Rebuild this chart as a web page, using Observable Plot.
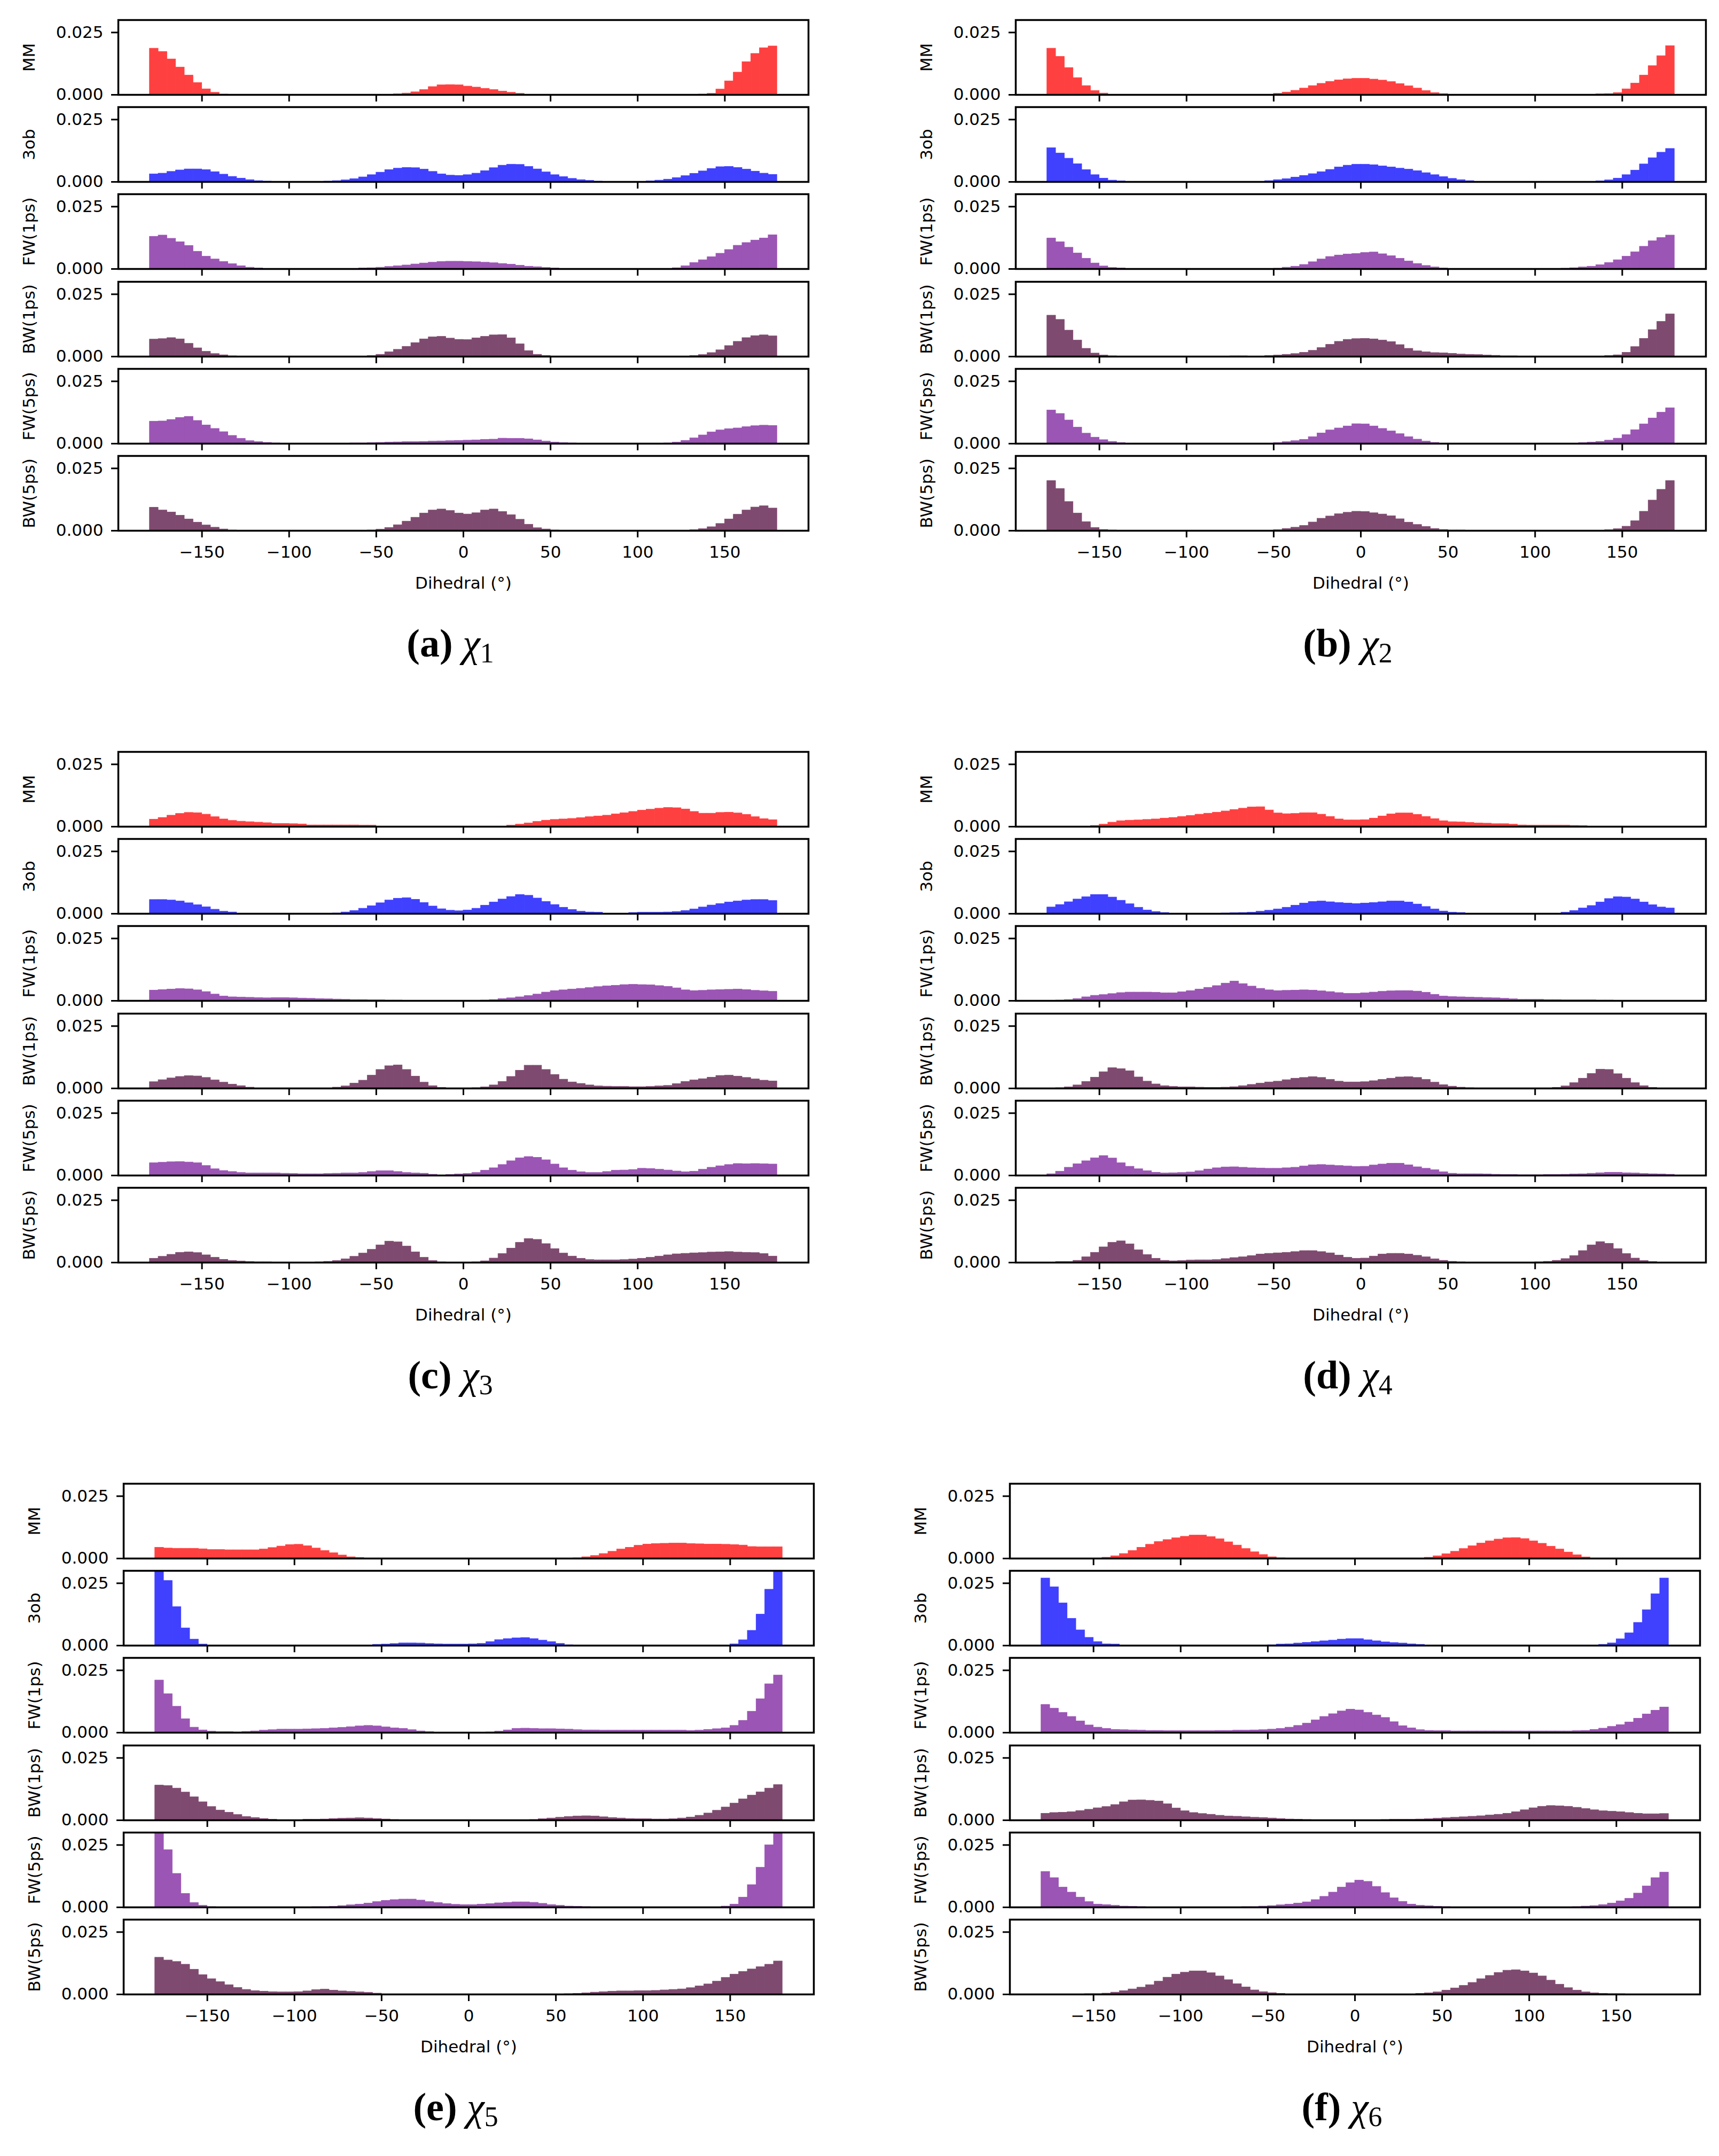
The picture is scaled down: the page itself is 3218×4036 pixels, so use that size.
<!DOCTYPE html>
<html><head><meta charset="utf-8">
<script src="https://cdn.jsdelivr.net/npm/d3@7"></script>
<script src="https://cdn.jsdelivr.net/npm/@observablehq/plot@0.6"></script>
<style>
html,body{margin:0;padding:0;background:#fff;}
#page{position:relative;width:3218px;height:4036px;background:#fff;overflow:hidden;}
.sub{position:absolute;}
.cap{position:absolute;font-family:"Liberation Serif","DejaVu Serif",serif;font-size:74px;color:#000;transform:translate(-50%,-50%);white-space:nowrap;line-height:1;}
.cap sub{font-size:0.7em;vertical-align:-0.22em;font-style:normal;}
</style></head><body><div id="page"></div><script>
// Histogram heights in units of 1e-3 (probability density per degree), 5-degree bins from -180 to 180.
// Six rows per panel: MM, 3ob, FW(1ps), BW(1ps), FW(5ps), BW(5ps).
const a_MM = [18.6,17.3,14.3,11.0,7.8,4.8,2.3,0.9,0.2,0,0,0, 0,0,0,0,0,0,0,0,0,0,0,0, 0,0,0,0,0.3,0.6,1.1,2.0,3.2,3.9,4.0,3.9, 3.4,3.0,2.5,2.0,1.4,0.9,0.5,0.1,0,0,0,0, 0,0,0,0,0,0,0,0,0,0,0,0, 0,0,0,0.2,0.5,2.2,5.5,9.0,13.2,16.5,18.8,19.5];
const a_3ob = [3.1,3.4,4.1,4.7,5.1,5.1,4.8,4.0,3.0,2.1,1.4,0.8, 0.4,0.2,0,0,0,0,0,0,0.2,0.4,0.7,1.2, 1.9,2.8,3.8,4.8,5.4,5.7,5.6,5.0,4.1,3.1,2.6,2.5, 2.8,3.4,4.4,5.6,6.6,7.0,6.9,6.1,5.1,3.9,2.8,2.0, 1.3,0.8,0.5,0.2,0.1,0,0,0.1,0.1,0.3,0.6,1.0, 1.6,2.4,3.3,4.3,5.3,6.0,6.1,5.7,5.0,4.2,3.4,2.9];
const a_FW1 = [13.0,13.5,12.2,10.8,9.3,7.0,5.0,3.9,2.9,2.0,1.2,0.6, 0.3,0.1,0,0,0,0,0,0,0,0,0,0.1, 0.3,0.4,0.6,0.9,1.2,1.5,1.9,2.3,2.6,2.9,3.0,3.0, 2.9,2.8,2.6,2.4,2.1,1.8,1.4,1.0,0.8,0.5,0.3,0.1, 0,0,0,0,0,0,0,0,0,0,0,0.1, 0.4,1.2,2.5,3.6,4.8,6.2,7.7,9.4,10.5,11.5,12.3,13.6];
const a_BW1 = [6.9,7.1,7.5,7.0,5.2,3.4,2.0,1.1,0.6,0.2,0,0, 0,0,0,0,0,0,0,0,0,0,0,0, 0.1,0.3,0.8,1.8,2.8,4.0,5.5,7.0,7.8,8.0,7.3,6.8, 6.7,7.4,8.0,8.6,8.7,7.4,5.0,2.3,0.8,0.3,0.1,0, 0,0,0,0,0,0,0,0,0,0,0,0, 0,0.1,0.3,0.7,1.5,2.6,4.3,6.0,7.5,8.3,8.6,8.2];
const a_FW5 = [8.9,9.0,9.6,10.4,10.8,9.2,7.4,6.0,4.7,3.2,2.0,1.1, 0.7,0.4,0.2,0.1,0.05,0,0,0,0,0.1,0.1,0.2, 0.2,0.3,0.4,0.5,0.6,0.7,0.7,0.8,0.9,1.0,1.1,1.2, 1.3,1.4,1.6,1.7,2.1,2.0,2.0,1.8,1.4,0.9,0.5,0.3, 0.2,0.1,0.05,0,0,0,0,0,0,0.05,0.1,0.2, 0.5,1.2,2.2,3.4,4.6,5.4,5.9,6.2,6.7,7.1,7.3,7.2];
const a_BW5 = [9.3,8.2,7.4,6.1,4.6,3.3,2.2,1.3,0.6,0.2,0,0, 0,0,0,0,0,0,0,0,0,0,0,0.1, 0.1,0.2,0.5,1.2,2.3,3.7,5.3,7.0,8.2,8.6,8.0,7.0, 6.6,7.1,8.2,8.6,7.6,6.3,4.5,2.5,1.1,0.6,0.2,0.1, 0,0,0,0,0,0,0,0,0,0,0,0, 0,0.1,0.3,0.7,1.5,2.8,4.6,6.5,8.2,9.4,9.9,9.0];

const b_MM = [18.6,15.3,10.8,6.8,3.6,1.6,0.6,0,0,0,0,0, 0,0,0,0,0,0,0,0,0,0,0,0, 0,0,0.5,1.0,1.7,2.6,3.6,4.5,5.3,5.9,6.3,6.5, 6.5,6.2,5.8,5.2,4.4,3.5,2.6,1.6,0.8,0.4,0,0, 0,0,0,0,0,0,0,0,0,0,0,0, 0,0,0,0.3,0.4,0.8,2.3,4.6,7.8,11.6,15.6,19.6];
const b_3ob = [13.6,11.5,9.4,7.2,4.8,2.8,1.4,0.6,0.3,0.1,0,0, 0,0,0,0,0,0,0,0,0,0,0,0, 0,0.4,0.8,1.2,1.8,2.5,3.2,4.0,4.9,5.9,6.6,7.0, 7.0,6.8,6.3,5.9,5.4,5.0,4.4,3.6,2.8,2.0,1.3,0.8, 0.4,0,0,0,0,0,0,0,0,0,0,0, 0,0,0.1,0.3,0.7,1.4,2.8,4.6,7.1,9.6,11.8,13.3];
const b_FW1 = [12.3,10.8,8.6,6.3,4.2,2.3,1.1,0.5,0.3,0.1,0,0, 0,0,0,0,0,0,0,0,0,0,0,0, 0,0,0.2,0.6,1.0,1.7,2.8,3.9,4.9,5.5,5.9,6.1, 6.5,6.7,6.0,5.2,4.2,3.1,2.1,1.3,0.7,0.3,0.1,0, 0,0,0,0.05,0,0,0.05,0,0.05,0,0.1,0.2, 0.4,0.7,1.0,1.6,2.5,3.6,5.0,6.8,9.0,11.2,12.5,13.5];
const b_BW1 = [16.5,14.8,10.5,6.5,3.2,1.3,0.5,0.2,0,0,0,0, 0,0,0,0,0,0,0,0,0,0.2,0.2,0.1, 0.1,0.3,0.5,0.8,1.1,1.6,2.4,3.5,4.8,6.0,6.8,7.1, 7.2,7.0,6.5,5.9,4.7,3.2,2.2,1.8,1.5,1.4,1.2,0.9, 0.8,0.7,0.5,0.4,0.2,0.2,0.1,0.05,0,0,0,0, 0,0,0,0.1,0.3,0.6,1.6,3.9,7.2,10.7,14.0,17.0];
const b_FW5 = [13.4,12.0,9.4,6.5,4.1,2.5,1.5,0.8,0.3,0.1,0,0, 0,0.05,0,0,0,0,0,0,0,0,0,0, 0,0,0.3,0.7,1.1,1.6,2.7,4.2,5.4,6.2,7.0,7.9, 7.8,7.0,6.0,5.0,3.9,2.7,1.7,0.9,0.4,0.1,0,0, 0,0,0,0,0,0,0,0,0,0,0,0.1, 0.1,0.3,0.5,0.8,1.3,2.1,3.5,5.5,7.8,10.2,12.5,14.3];
const b_BW5 = [20.0,16.8,11.6,7.0,3.5,1.2,0.4,0.2,0,0,0,0.1, 0,0,0,0,0,0,0,0,0,0,0,0, 0,0,0.3,0.8,1.3,2.0,3.4,4.9,5.8,6.7,7.3,7.7, 7.6,7.1,6.6,5.9,4.7,3.3,2.4,1.6,0.8,0.4,0.2,0.2, 0.05,0,0.1,0,0,0,0,0,0,0,0,0.1, 0,0.1,0.1,0.1,0.3,0.7,1.7,3.9,7.7,12.2,16.5,20.0];

const c_MM = [2.9,3.6,4.5,5.2,5.6,5.5,4.9,3.9,3.0,2.4,2.1,1.9, 1.7,1.5,1.2,1.2,1.1,1.0,0.6,0.6,0.6,0.6,0.6,0.6, 0.5,0.5,0.1,0,0,0,0,0,0,0,0,0, 0,0,0,0,0,0.5,0.9,1.4,2.0,2.5,2.8,3.0, 3.2,3.5,3.9,4.2,4.5,5.0,5.5,6.0,6.5,6.9,7.3,7.6, 7.5,7.0,6.0,5.3,5.3,5.6,5.7,5.4,4.8,3.9,3.1,2.7];
const c_3ob = [5.6,5.6,5.4,5.0,4.3,3.5,2.7,1.7,0.9,0.6,0.1,0, 0,0,0,0,0,0,0,0,0,0.2,0.6,1.2, 2.1,3.1,4.3,5.4,6.1,6.3,5.7,4.4,3.0,1.9,1.3,1.1, 1.4,2.1,3.3,4.6,5.8,6.8,7.6,7.3,6.2,4.8,3.6,2.5, 1.6,0.9,0.6,0.5,0.1,0,0.1,0.4,0.5,0.5,0.5,0.6, 0.8,1.2,1.8,2.6,3.4,4.0,4.6,5.0,5.4,5.6,5.6,5.2];
const c_FW1 = [4.2,4.4,4.6,4.8,4.7,4.3,3.6,2.6,1.8,1.5,1.4,1.3, 1.2,1.1,1.2,1.2,1.1,1.0,0.9,0.8,0.7,0.6,0.5,0.4, 0.4,0.3,0.3,0.2,0.2,0.1,0.1,0.05,0,0,0.05,0, 0,0.05,0.2,0.4,0.8,1.1,1.5,2.0,2.6,3.4,4.0,4.3, 4.6,4.9,5.2,5.6,5.9,6.1,6.4,6.5,6.4,6.3,6.0,5.7, 5.1,4.3,4.0,4.1,4.3,4.4,4.5,4.6,4.4,4.1,3.9,3.7];
const c_BW1 = [2.6,3.4,4.1,4.7,5.0,4.9,4.3,3.3,2.4,1.6,1.0,0.4, 0.1,0,0,0,0,0,0,0,0.1,0.4,0.9,2.0, 3.2,5.2,7.5,9.0,9.3,7.5,4.8,2.4,1.0,0.3,0.1,0, 0,0.2,0.5,1.3,2.7,4.7,7.2,9.2,9.2,7.5,5.5,3.6, 2.5,1.9,1.3,0.9,0.8,0.7,0.7,0.6,0.6,0.7,0.9,1.1, 1.8,2.7,3.3,3.8,4.4,5.1,5.2,4.8,4.3,3.7,3.2,2.9];
const c_FW5 = [5.0,5.2,5.4,5.5,5.3,5.0,3.9,2.6,1.9,1.5,1.1,0.9, 0.9,0.9,0.9,0.8,0.7,0.6,0.6,0.6,0.7,0.8,0.9,0.9, 1.1,1.5,1.8,1.8,1.5,1.1,0.9,0.8,0.4,0.1,0.3,0.5, 0.7,1.1,2.0,3.0,4.3,5.8,7.0,7.5,7.2,6.2,4.5,3.0, 2.0,1.4,1.1,1.1,1.5,2.0,2.1,2.3,2.8,2.7,2.4,2.1, 1.7,1.4,1.6,2.4,3.2,3.8,4.3,4.7,4.6,4.7,4.6,4.5];
const c_BW5 = [1.6,2.4,3.2,4.0,4.2,3.9,3.0,2.0,1.2,0.7,0.5,0.3, 0.2,0.2,0.1,0,0,0,0.1,0.2,0.4,0.7,1.4,2.4, 3.7,5.2,7.0,8.5,8.2,6.5,4.2,2.0,0.7,0.2,0.1,0.1, 0.1,0.2,0.6,1.7,3.5,5.7,8.0,9.5,9.2,7.5,5.5,3.7, 2.5,1.6,1.1,1.0,1.0,1.0,1.1,1.3,1.6,2.0,2.5,3.0, 3.4,3.6,3.8,3.9,4.1,4.2,4.3,4.1,4.0,3.9,3.5,2.5];

const d_MM = [0,0,0,0,0.1,0.4,0.9,1.7,2.3,2.5,2.6,2.8, 3.0,3.3,3.6,4.0,4.4,4.9,5.3,5.7,6.2,6.8,7.3,7.8, 7.9,6.6,5.4,5.1,5.2,5.5,5.5,4.9,4.0,3.0,2.6,2.6, 2.7,3.3,4.2,5.0,5.4,5.4,4.8,4.0,3.1,2.3,1.9,1.8, 1.6,1.4,1.3,1.1,1.1,0.9,0.6,0.5,0.5,0.5,0.5,0.5, 0.4,0.3,0.1,0,0,0,0,0,0,0,0,0];
const d_3ob = [2.6,3.6,4.7,5.8,6.7,7.6,7.6,6.6,5.3,3.9,2.5,1.4, 0.8,0.4,0,0,0,0,0,0,0.2,0.3,0.4,0.5, 0.9,1.3,1.8,2.5,3.3,4.2,4.8,5.0,4.7,4.4,4.2,4.0, 4.2,4.4,4.7,5.0,5.0,4.6,3.8,2.8,1.8,1.0,0.5,0.4, 0.1,0,0,0,0,0,0,0,0,0,0.1,0.5, 1.2,2.2,3.2,4.6,6.0,6.7,6.6,5.8,4.6,3.5,2.6,2.2];
const d_FW1 = [0.1,0.2,0.4,0.8,1.5,2.1,2.4,2.8,3.2,3.4,3.4,3.4, 3.3,3.1,3.1,3.5,4.0,4.6,5.3,6.0,7.0,7.8,6.8,5.8, 4.9,4.3,4.0,4.1,4.2,4.3,4.2,3.9,3.6,3.2,2.9,2.9, 3.1,3.4,3.7,3.9,4.0,4.0,3.8,3.3,2.5,1.8,1.6,1.5, 1.4,1.3,1.2,1.1,0.9,0.7,0.5,0.5,0.5,0.4,0.4,0.3, 0.3,0.3,0.3,0.2,0.2,0.1,0.05,0,0,0,0,0];
const d_BW1 = [0.1,0.2,0.5,1.3,2.7,4.4,6.6,8.2,7.8,7.0,4.5,2.8, 1.7,1.0,0.7,0.5,0.5,0.4,0.3,0.3,0.4,0.6,1.0,1.5, 2.0,2.5,2.8,3.4,4.0,4.3,4.6,4.3,3.5,2.8,2.5,2.5, 2.6,3.0,3.5,4.0,4.5,4.6,4.3,3.5,2.4,1.4,0.8,0.4, 0.2,0.1,0,0,0,0,0,0,0,0.1,0.3,0.9, 2.2,4.0,5.9,7.6,7.5,5.8,4.0,2.2,1.0,0.3,0.1,0];
const d_FW5 = [0.6,1.6,3.2,4.6,5.8,7.0,7.9,6.9,5.0,3.6,2.6,1.8, 1.2,0.9,1.0,1.1,1.3,1.8,2.5,3.0,3.3,3.4,3.2,3.0, 2.9,2.8,2.8,3.0,3.2,3.7,4.2,4.3,4.1,3.9,3.7,3.5, 3.6,4.1,4.5,4.8,4.8,4.2,3.4,2.8,2.2,1.4,0.8,0.6, 0.6,0.6,0.5,0.4,0.3,0.3,0.2,0.2,0.2,0.3,0.3,0.4, 0.5,0.6,0.8,1.0,1.2,1.2,1.0,0.9,0.7,0.6,0.5,0.4];
const d_BW5 = [0.1,0.3,0.3,0.8,2.2,4.0,6.2,8.0,8.6,7.4,5.0,3.1, 1.6,0.8,0.6,0.7,0.9,1.0,1.0,1.1,1.5,1.9,2.2,2.7, 3.3,3.6,3.8,4.0,4.3,4.7,4.7,4.3,3.8,2.9,2.0,1.6, 1.7,2.5,3.3,3.6,3.6,3.3,2.8,2.2,1.4,0.8,0.4,0.2, 0.1,0,0,0,0,0,0.1,0.1,0.2,0.4,0.8,1.5, 2.7,4.7,7.0,8.3,7.6,5.5,3.5,1.7,0.7,0.3,0.1,0];

const e_MM = [4.4,4.1,4.0,4.0,4.0,3.8,3.5,3.5,3.4,3.4,3.4,3.4, 3.7,4.3,4.9,5.5,5.6,5.0,4.1,3.1,2.2,1.3,0.6,0.3, 0,0,0,0,0,0,0,0,0,0,0,0, 0,0,0,0,0,0,0,0,0,0,0,0, 0.2,0.6,1.1,1.9,2.8,3.7,4.4,5.2,5.7,5.9,6.0,6.1, 6.1,5.9,5.8,5.7,5.7,5.6,5.5,5.3,4.7,4.6,4.6,4.6];
const e_3ob = [31,26,15.5,7.0,2.5,0.5,0.05,0,0,0,0,0, 0,0,0,0,0,0,0,0,0,0,0,0, 0,0.4,0.5,0.7,1.0,1.0,0.9,0.7,0.6,0.5,0.5,0.5, 0.6,0.8,1.5,2.3,2.7,3.0,3.1,2.7,2.1,1.5,0.8,0.2, 0,0,0,0,0,0,0,0,0,0,0,0, 0,0,0,0,0,0.1,0.6,2.2,6.0,12.5,22.5,31];
const e_FW1 = [21.0,15.5,10.5,5.5,2.1,1.0,0.5,0.3,0.3,0.2,0.4,0.6, 0.9,1.1,1.3,1.3,1.3,1.4,1.5,1.6,1.8,2.0,2.3,2.6, 2.8,2.6,2.2,1.8,1.6,1.1,0.6,0.3,0.1,0,0,0, 0,0.05,0.2,0.5,1.0,1.6,1.7,1.6,1.5,1.5,1.4,1.3, 1.1,1.0,1.0,0.9,0.9,0.9,0.9,0.9,0.9,0.9,0.9,0.9, 0.9,0.8,0.9,1.2,1.5,1.8,2.8,4.8,8.5,13.5,19.5,23.0];
const e_BW1 = [14.0,13.8,12.8,11.2,9.3,7.3,5.4,4.0,3.1,2.2,1.4,1.0, 0.6,0.3,0.1,0.1,0.1,0.3,0.3,0.4,0.6,0.7,0.8,0.9, 0.8,0.6,0.4,0.2,0.1,0.05,0.05,0,0,0,0,0, 0,0,0,0,0,0,0.05,0.2,0.5,0.8,1.1,1.4, 1.6,1.7,1.6,1.3,1.0,0.8,0.6,0.5,0.5,0.4,0.4,0.5, 0.8,1.2,1.9,2.8,3.9,5.2,6.8,8.5,10.0,11.3,12.8,14.2];
const e_FW5 = [31,23,13.5,5.5,1.8,0.7,0.2,0,0,0,0,0, 0,0.05,0.05,0.05,0.05,0.1,0.2,0.2,0.3,0.6,0.9,1.2, 1.6,2.2,2.7,3.0,3.2,3.2,2.8,2.2,1.8,1.4,1.1,1.0, 1.0,1.2,1.4,1.7,1.9,2.1,2.1,1.9,1.5,1.0,0.7,0.4, 0.3,0.2,0.1,0.05,0,0,0,0,0,0,0,0, 0,0,0,0,0.1,0.4,1.2,4.0,9.0,16.0,25.0,31];
const e_BW5 = [14.8,13.7,13.1,12.0,10.0,7.8,6.2,5.0,3.8,2.7,1.9,1.4, 1.2,1.0,0.9,0.9,1.0,1.3,1.8,2.0,1.6,1.3,1.1,0.9, 0.7,0.4,0.1,0,0,0,0,0,0,0,0,0, 0,0,0,0,0,0,0,0,0,0,0.1,0.2, 0.3,0.5,0.8,1.0,1.2,1.3,1.3,1.4,1.4,1.5,1.7,1.9, 2.1,2.6,3.3,4.1,5.2,6.7,8.0,9.1,10.1,11.0,12.0,13.3];

const f_MM = [0,0,0,0,0,0,0,0.4,1.0,1.9,3.1,4.4, 5.6,6.7,7.5,8.2,8.8,9.3,9.3,8.7,7.8,6.6,5.3,3.9, 2.6,1.5,0.6,0.2,0,0,0,0,0,0,0,0, 0,0,0,0,0,0,0,0,0.4,1.0,1.8,2.8, 3.9,5.0,6.1,7.0,7.7,8.2,8.3,7.9,7.0,6.0,4.8,3.7, 2.5,1.4,0.5,0,0,0,0,0,0,0,0,0];
const f_3ob = [27.0,23.5,17.0,10.8,6.2,3.2,1.5,0.6,0.5,0.1,0,0, 0,0,0,0,0,0,0,0,0,0,0,0, 0,0,0.2,0.5,0.6,0.9,1.2,1.5,1.8,2.1,2.5,2.7, 2.7,2.2,1.8,1.4,1.1,0.9,0.6,0.4,0.1,0,0,0, 0,0,0,0,0,0,0,0,0,0,0,0, 0,0,0,0,0.4,1.0,2.6,5.0,9.2,14.3,20.7,27.0];
const f_FW1 = [11.2,9.7,8.0,6.4,4.6,3.0,2.1,1.6,1.2,1.1,1.0,0.9, 0.8,0.8,0.7,0.7,0.7,0.7,0.7,0.7,0.8,0.8,0.9,0.9, 1.0,1.1,1.3,1.6,2.1,2.8,3.7,5.0,6.4,7.5,8.6,9.3, 9.0,8.0,7.0,6.0,4.3,2.7,1.8,1.1,0.8,0.7,0.7,0.6, 0.6,0.6,0.6,0.6,0.6,0.6,0.6,0.6,0.6,0.6,0.6,0.6, 0.6,0.7,0.8,1.2,1.7,2.4,3.1,4.2,5.7,7.4,8.9,10.2];
const f_BW1 = [2.7,3.0,3.1,3.3,3.8,4.3,4.9,5.4,6.2,7.3,8.0,8.1, 7.9,7.6,6.5,4.8,3.7,3.0,2.6,2.3,1.9,1.6,1.5,1.3, 1.1,1.0,0.8,0.6,0.4,0.3,0.2,0.1,0.05,0,0,0, 0,0,0.1,0.2,0.3,0.3,0.3,0.4,0.5,0.7,0.9,1.1, 1.3,1.5,1.7,2.0,2.3,2.7,3.3,4.1,4.9,5.5,5.8,5.7, 5.5,5.1,4.6,4.1,3.7,3.5,3.3,3.0,2.7,2.5,2.5,2.6];
const f_FW5 = [14.3,11.8,8.0,6.0,4.0,2.2,1.2,1.0,0.7,0.4,0.3,0.2, 0.1,0.1,0.05,0.05,0,0,0,0,0,0,0.1,0.2, 0.2,0.4,0.6,0.9,1.2,1.6,2.1,3.0,4.3,6.0,8.0,9.8, 10.8,10.3,8.3,5.8,3.7,2.3,1.2,0.7,0.5,0.3,0.2,0.05, 0,0,0,0,0,0,0,0,0,0,0,0, 0.1,0.2,0.4,0.6,1.0,1.6,2.5,3.5,5.6,8.5,11.8,14.0];
const f_BW5 = [0,0,0,0.1,0.1,0.2,0.2,0.4,0.8,1.4,2.1,2.8, 3.8,5.2,6.8,8.0,8.8,9.3,9.3,8.6,7.3,5.8,4.2,2.9, 1.7,1.0,0.6,0.3,0.1,0.05,0.05,0.05,0,0,0,0, 0,0,0,0,0,0,0.1,0.3,0.5,0.9,1.6,2.5, 3.5,4.7,6.2,7.5,8.7,9.6,9.8,9.3,8.5,7.3,5.6,4.0, 2.6,1.6,0.9,0.5,0.3,0.2,0.2,0.1,0.05,0,0,0];

const seriesNames = ["MM", "3ob", "FW(1ps)", "BW(1ps)", "FW(5ps)", "BW(5ps)"];
const seriesColors = ["#ff4040", "#4040ff", "#9b55b4", "#7f4a70", "#9b55b4", "#7f4a70"];
const xTicks = [-150, -100, -50, 0, 50, 100, 150];
const yTicks = [0, 0.025];
const xLabel = "Dihedral (°)";
const panelLetters = ["a", "b", "c", "d", "e", "f"];
const panelSubs = ["1", "2", "3", "4", "5", "6"];
const binWidth = 5;
const binStarts = d3.range(-180, 180, binWidth);

const panelSeries = {
  a: [a_MM, a_3ob, a_FW1, a_BW1, a_FW5, a_BW5],
  b: [b_MM, b_3ob, b_FW1, b_BW1, b_FW5, b_BW5],
  c: [c_MM, c_3ob, c_FW1, c_BW1, c_FW5, c_BW5],
  d: [d_MM, d_3ob, d_FW1, d_BW1, d_FW5, d_BW5],
  e: [e_MM, e_3ob, e_FW1, e_BW1, e_FW5, e_BW5],
  f: [f_MM, f_3ob, f_FW1, f_BW1, f_FW5, f_BW5]
};

// layout (frame left edge and first frame top, in px)
const layout = {
  a: {left: 221, top: 37}, b: {left: 1901, top: 37},
  c: {left: 221, top: 1407}, d: {left: 1901, top: 1407},
  e: {left: 231, top: 2777}, f: {left: 1890, top: 2777}
};
const FW = 1292, FH = 140, PITCH = 163.2;
const ML = 200, MR = 24, MT = 12;

const page = document.getElementById("page");
const fmtX = d3.format("d");
const fmtY = d3.format(".3f");

panelLetters.forEach((p, pi) => {
  const g = layout[p];
  panelSeries[p].forEach((arr, i) => {
    const last = i === 5;
    const MB = last ? 132 : 26;
    const color = seriesColors[i];
    const data = binStarts.map((x1, j) => ({x1, x2: x1 + binWidth, v: (arr[j] || 0) / 1000})).filter(d => d.v > 0);
    const svg = Plot.plot({
      width: ML + FW + MR,
      height: MT + FH + MB,
      marginLeft: ML, marginRight: MR, marginTop: MT, marginBottom: MB,
      x: {domain: [-198, 198]},
      y: {domain: [0, 0.03]},
      style: {fontFamily: "DejaVu Sans", fontSize: "31px", background: "transparent", overflow: "visible", color: "#000"},
      marks: [
        Plot.rect(data, {x1: "x1", x2: "x2", y1: 0, y2: "v", fill: color, stroke: color, strokeWidth: 0.8, clip: true}),
        Plot.axisY({ticks: yTicks, tickFormat: fmtY, tickSize: 13, tickPadding: 15, strokeWidth: 3, label: null}),
        Plot.axisX({ticks: xTicks, tickFormat: last ? fmtX : () => "", tickSize: 13, tickPadding: 15, strokeWidth: 3, label: null}),
        Plot.text([seriesNames[i]], {text: d => d, frameAnchor: "left", dx: -166, rotate: -90, textAnchor: "middle", lineAnchor: "middle"}),
        last ? Plot.text([xLabel], {text: d => d, frameAnchor: "bottom", dy: 99, textAnchor: "middle", lineAnchor: "middle"}) : null,
        Plot.frame({stroke: "#000", strokeWidth: 3.5})
      ]
    });
    const wrap = document.createElement("div");
    wrap.className = "sub";
    wrap.style.left = (g.left - ML) + "px";
    wrap.style.top = (g.top + i * PITCH - MT) + "px";
    wrap.appendChild(svg);
    page.appendChild(wrap);
  });
  const cap = document.createElement("div");
  cap.className = "cap";
  cap.style.left = (g.left + FW / 2 - 24) + "px";
  cap.style.top = (g.top + 1171) + "px";
  cap.innerHTML = `<b>(${p})</b> <i>χ</i><sub>${panelSubs[pi]}</sub>`;
  page.appendChild(cap);
});
</script></body></html>
